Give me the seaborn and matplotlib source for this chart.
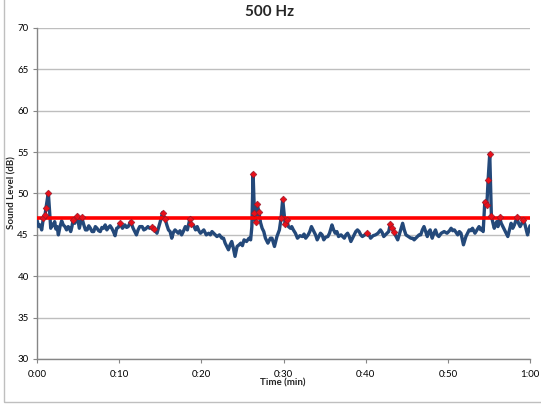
import matplotlib
matplotlib.use("Agg")
import matplotlib.pyplot as plt
import seaborn as sns
import pandas as pd
from matplotlib.patches import Rectangle

# ---------------- data ----------------
time_min = [
    0.0, 0.2, 0.37, 0.57, 0.77, 0.98, 1.10, 1.38, 1.67, 1.85,
    2.0, 2.15, 2.3, 2.45, 2.6, 2.8, 3.0, 3.2, 3.4, 3.6,
    3.8, 3.95, 4.1, 4.25, 4.4, 4.6, 4.9, 5.15, 5.45, 5.7,
    5.9, 6.1, 6.3, 6.5, 6.7, 6.9, 7.1, 7.3, 7.5, 7.7,
    7.9, 8.1, 8.3, 8.5, 8.7, 8.9, 9.1, 9.3, 9.5, 9.7,
    9.9, 10.1, 10.4, 10.7, 10.9, 11.1, 11.4, 11.7, 12.1, 12.3,
    12.5, 12.8, 13.0, 13.2, 13.5, 13.7, 13.98, 14.27, 14.6, 14.8,
    15.0, 15.28, 15.6, 15.8, 16.0, 16.2, 16.4, 16.6, 16.8, 17.0,
    17.2, 17.4, 17.6, 17.8, 18.05, 18.3, 18.6, 18.74, 19.07, 19.3,
    19.5, 19.7, 19.9, 20.1, 20.3, 20.6, 20.9, 21.1, 21.3, 21.6,
    21.9, 22.2, 22.5, 22.7, 22.9, 23.1, 23.3, 23.5, 23.7, 23.9,
    24.1, 24.35, 24.6, 24.8, 25.0, 25.2, 25.5, 25.8, 26.0, 26.15,
    26.3, 26.46, 26.6, 26.8, 27.0, 27.2, 27.4, 27.6, 27.8, 28.1,
    28.4, 28.6, 28.9, 29.2, 29.5, 29.7, 29.9, 30.2, 30.4, 30.6,
    30.85, 31.0, 31.2, 31.45, 31.7, 32.0, 32.3, 32.5, 32.7, 33.0,
    33.2, 33.4, 33.7, 33.9, 34.1, 34.3, 34.5, 34.7, 34.9, 35.1,
    35.4, 35.6, 35.9, 36.1, 36.3, 36.5, 36.7, 37.0, 37.2, 37.4,
    37.6, 37.8, 38.0, 38.2, 38.4, 38.6, 38.8, 39.0, 39.2, 39.4,
    39.6, 39.9, 40.2, 40.4, 40.6, 40.9, 41.2, 41.5, 41.8, 42.0,
    42.2, 42.4, 42.6, 42.8, 43.0, 43.25, 43.45, 43.7, 43.9, 44.2,
    44.5, 44.7, 44.9, 45.2, 45.5, 45.7, 45.9, 46.1, 46.3, 46.5,
    46.7, 46.9, 47.1, 47.3, 47.5, 47.7, 47.85, 48.1, 48.3, 48.5,
    48.7, 48.9, 49.2, 49.55, 49.9, 50.2, 50.4, 50.6, 50.8, 51.0,
    51.2, 51.4, 51.6, 51.9, 52.2, 52.4, 52.6, 52.8, 53.0, 53.15,
    53.3, 53.55, 53.8, 54.0, 54.1, 54.3, 54.5, 54.75, 54.9, 55.1,
    55.3, 55.5, 55.65, 55.95, 56.1, 56.3, 56.5, 56.7, 56.9, 57.1,
    57.3, 57.5, 57.7, 57.9, 58.1, 58.4, 58.6, 58.8, 59.0, 59.2,
    59.4, 59.7, 60.0,
]
sound_db = [
    46.8, 46.0, 46.2, 45.6, 47.0, 47.4, 48.3, 50.1, 45.8, 46.3,
    46.1, 46.6, 45.7, 46.0, 45.0, 46.0, 46.7, 46.2, 46.0, 45.6,
    46.0, 45.8, 45.4, 46.0, 46.8, 46.4, 47.3, 45.8, 47.1, 46.2,
    45.6, 45.6, 46.1, 45.8, 45.4, 45.4, 46.0, 45.8, 45.5, 45.4,
    45.9, 45.8, 46.2, 45.6, 45.9, 46.1, 45.8, 45.4, 44.9, 45.8,
    45.9, 46.4, 45.8, 46.2, 45.9, 46.0, 46.6, 45.8, 45.0, 45.6,
    46.0, 46.0, 45.6, 45.7, 46.0, 45.8, 45.9, 45.7, 45.2, 45.9,
    46.6, 47.7, 46.9, 46.2, 45.6, 45.4, 44.6, 45.3, 45.6, 45.4,
    45.2, 45.5, 45.0, 45.4, 46.0, 45.6, 46.9, 46.3, 46.1, 45.6,
    46.0, 45.5, 45.2, 45.4, 45.6, 45.0, 45.2, 45.0, 45.4, 45.1,
    44.8, 45.0, 44.6, 44.6, 44.0, 43.6, 43.2, 43.8, 44.2, 43.4,
    42.4, 43.6, 43.8, 44.0, 43.7, 44.4, 44.2, 44.6, 44.4, 46.0,
    52.4, 47.6, 46.6, 48.7, 47.8, 46.5, 45.8, 45.4, 44.6, 44.0,
    44.6, 44.6, 43.6, 44.8, 45.6, 47.0, 49.3, 46.3, 46.8, 46.0,
    45.8, 46.0, 45.6, 45.2, 44.6, 44.9, 44.8, 45.1, 44.6, 45.0,
    45.4, 46.0, 45.4, 45.0, 44.4, 44.8, 45.2, 45.0, 44.4, 44.7,
    44.8, 45.2, 46.2, 45.6, 45.2, 45.4, 44.8, 45.0, 44.8, 44.6,
    45.0, 45.2, 44.8, 44.2, 44.6, 45.0, 45.4, 45.6, 45.4, 45.0,
    44.8, 45.0, 45.2, 45.0, 44.6, 44.9, 45.0, 45.2, 45.6, 45.3,
    44.8, 45.0, 45.2, 45.4, 46.3, 45.8, 45.3, 44.8, 44.4, 45.4,
    46.4, 45.6, 45.0, 44.8, 44.6, 44.6, 44.4, 44.6, 44.8, 45.0,
    45.0, 45.6, 46.0, 45.4, 44.8, 45.4, 45.6, 44.6, 45.2, 45.6,
    45.0, 44.8, 45.2, 45.4, 45.2, 45.5, 45.8, 45.5, 45.6, 45.3,
    45.0, 45.4, 45.2, 43.8, 44.8, 45.2, 45.6, 45.5, 45.8, 45.5,
    45.2, 45.6, 46.0, 45.6, 45.8, 45.4, 49.0, 48.6, 51.6, 54.8,
    47.3, 46.4, 45.8, 46.6, 46.0, 47.1, 46.4, 46.0, 45.6, 45.2,
    44.8, 45.6, 46.4, 45.8, 46.2, 47.1, 46.4, 46.0, 46.4, 46.8,
    46.2, 45.0, 46.1,
]

marker_time_min = [
    0.77, 0.98, 1.10, 1.38, 4.4, 4.9, 5.45, 10.1, 11.4, 13.98,
    14.27, 15.28, 15.6, 18.6, 18.74, 26.3, 26.46, 26.6, 26.8, 27.0,
    29.7, 29.9, 30.2, 30.4, 40.2, 43.0, 43.25, 43.45, 54.5, 54.75,
    54.9, 55.1, 55.3, 56.3, 58.4, 59.2,
]
marker_db = [
    47.0, 47.4, 48.3, 50.1, 46.8, 47.3, 47.1, 46.4, 46.6, 45.9,
    45.7, 47.7, 46.9, 46.9, 46.3, 52.4, 47.6, 46.6, 48.7, 47.8,
    47.0, 49.3, 46.3, 46.8, 45.2, 46.3, 45.8, 45.3, 49.0, 48.6,
    51.6, 54.8, 47.3, 47.1, 47.1, 46.8,
]

threshold_db = 47.0
x_ticks_min = [0, 10, 20, 30, 40, 50, 60]
x_tick_labels = ["0:00", "0:10", "0:20", "0:30", "0:40", "0:50", "1:00"]
y_ticks_db = [30, 35, 40, 45, 50, 55, 60, 65, 70]

title_text = "500 Hz"
y_label = "Sound Level (dB)"
x_label = "Time (min)"

# ---------------- plot ----------------
sns.set_theme(style="white")
plt.rcParams["font.family"] = ["Lato", "DejaVu Sans"]

W, H = 541, 413
fig = plt.figure(figsize=(W / 100, H / 100), dpi=100)
ax = fig.add_axes([37 / W, 1 - 359 / H, (530 - 37) / W, (359 - 28) / H])

line_df = pd.DataFrame({"t": time_min, "db": sound_db})
mark_df = pd.DataFrame({"t": marker_time_min, "db": marker_db})

sns.lineplot(data=line_df, x="t", y="db", ax=ax, color="#24497A",
             linewidth=2.4, zorder=3, sort=False)
ax.axhline(threshold_db, color="#FF0000", linewidth=2.6, zorder=4)
sns.scatterplot(data=mark_df, x="t", y="db", ax=ax, marker="D", s=12,
                color="#E8101A", edgecolor="#8B1A2A", linewidth=0.4, zorder=5)

ax.set_xlim(0, 60)
ax.set_ylim(30, 70)
ax.set_xticks(x_ticks_min)
ax.set_xticklabels(x_tick_labels)
ax.set_yticks(y_ticks_db)

ax.grid(axis="y", color="#BEBEBE", linewidth=1.0)
ax.set_axisbelow(True)
for s in ["top", "right"]:
    ax.spines[s].set_visible(False)
for s in ["left", "bottom"]:
    ax.spines[s].set_color("#868686")
    ax.spines[s].set_linewidth(1.0)

ax.tick_params(axis="both", which="major", labelsize=7, colors="#868686",
               labelcolor="#000000", length=3, width=0.8, direction="out",
               left=True, bottom=True, pad=3)
ax.tick_params(axis="x", pad=5)

ax.set_xlabel("")
ax.set_ylabel("")
fig.text(283 / W, 1 - 383 / H, x_label, ha="center", va="center",
         fontsize=7, fontweight="bold")
fig.text(12 / W, 1 - 193 / H, y_label, ha="center", va="center",
         fontsize=7, fontweight="bold", rotation=90)
fig.text(270 / W, 1 - 12 / H, title_text, ha="center", va="center",
         fontsize=11, fontweight="bold")

# chart-area border (visible on left and bottom only)
fig.patches.append(Rectangle((4 / W, 1 - 402 / H), 1.1, 1.1,
                             transform=fig.transFigure, fill=False,
                             edgecolor="#BFBFBF", linewidth=1.0))

fig.savefig("out.png", dpi=100)
